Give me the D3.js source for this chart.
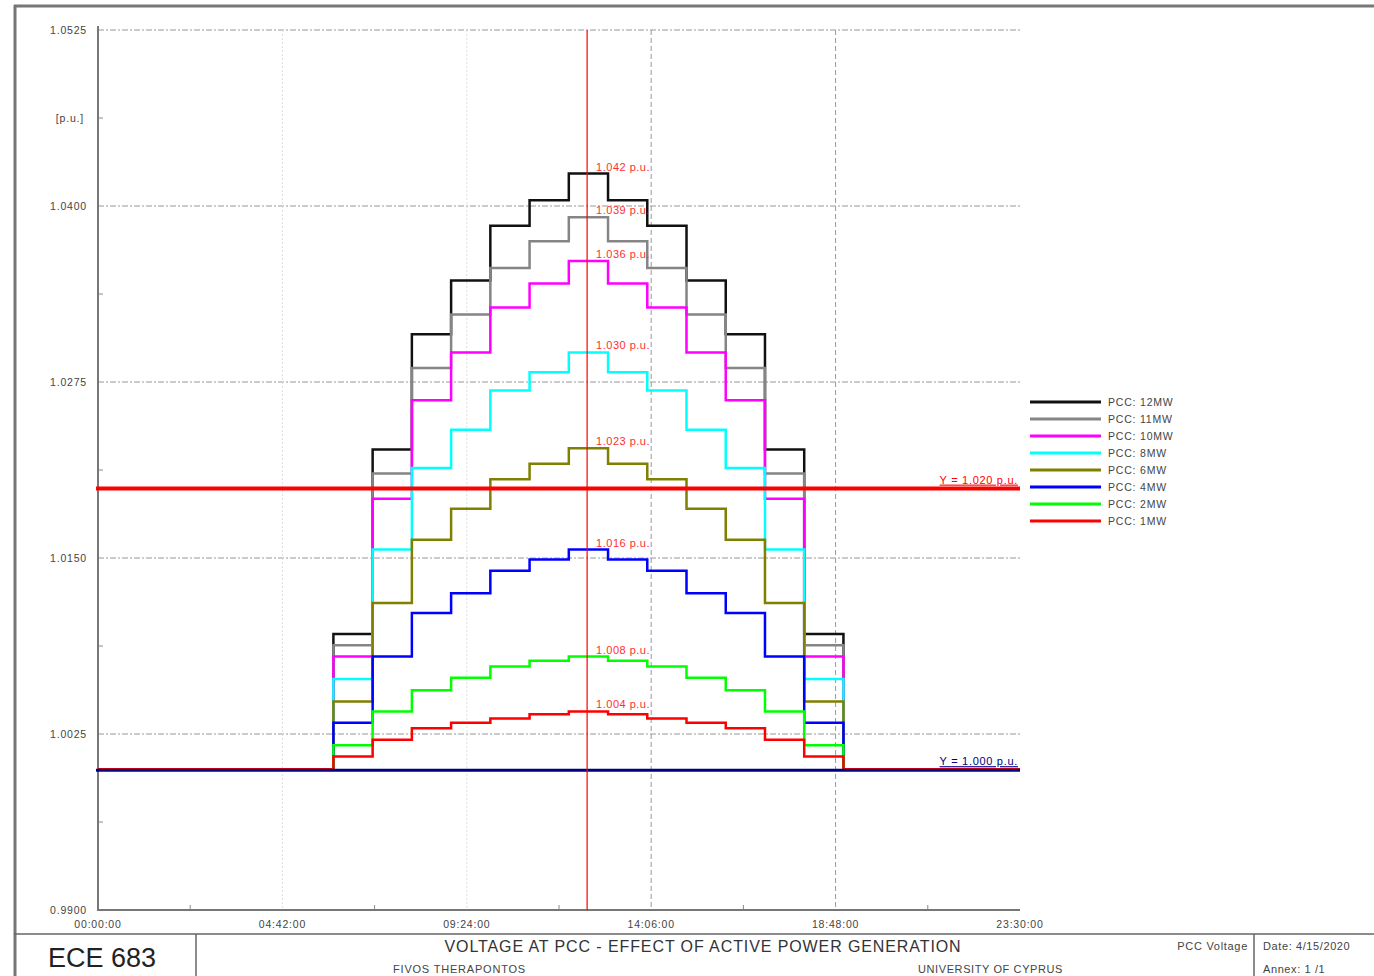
<!DOCTYPE html>
<html>
<head>
    <meta charset="utf-8">
    <script src="https://d3js.org/d3.v7.min.js"></script>
    <style>
        body { margin: 0; background: #fff; }
        svg text { font-family: "Liberation Sans", Arial, sans-serif; }
        .small { font-size: 10.5px; letter-spacing: 0.8px; fill: #444; }
    </style>
</head>
<body>
<script type="text/javascript">
    "use strict";
    // step times in hours (step-after), last point closes the day
    var stepHours = [0, 6, 7, 8, 9, 10, 11, 12, 13, 14, 15, 16, 17, 18, 19, 23.5];

    var pcc12 = [1.0, 1.0096, 1.0227, 1.0309, 1.0347, 1.0386, 1.0404, 1.0423, 1.0404, 1.0386, 1.0347, 1.0309, 1.0227, 1.0096, 1.0, 1.0];
    var pcc11 = [1.0, 1.0088, 1.0210, 1.0285, 1.0323, 1.0356, 1.0375, 1.0392, 1.0375, 1.0356, 1.0323, 1.0285, 1.0210, 1.0088, 1.0, 1.0];
    var pcc10 = [1.0, 1.0080, 1.0192, 1.0262, 1.0296, 1.0328, 1.0345, 1.0361, 1.0345, 1.0328, 1.0296, 1.0262, 1.0192, 1.0080, 1.0, 1.0];
    var pcc8  = [1.0, 1.0064, 1.0156, 1.0214, 1.0241, 1.0269, 1.0282, 1.0296, 1.0282, 1.0269, 1.0241, 1.0214, 1.0156, 1.0064, 1.0, 1.0];
    var pcc6  = [1.0, 1.0048, 1.0118, 1.0163, 1.0185, 1.0206, 1.0217, 1.0228, 1.0217, 1.0206, 1.0185, 1.0163, 1.0118, 1.0048, 1.0, 1.0];
    var pcc4  = [1.0, 1.0033, 1.0080, 1.0111, 1.0125, 1.0141, 1.0149, 1.0156, 1.0149, 1.0141, 1.0125, 1.0111, 1.0080, 1.0033, 1.0, 1.0];
    var pcc2  = [1.0, 1.0017, 1.0041, 1.0056, 1.0065, 1.0073, 1.0077, 1.0080, 1.0077, 1.0073, 1.0065, 1.0056, 1.0041, 1.0017, 1.0, 1.0];
    var pcc1  = [1.0, 1.0009, 1.0021, 1.0029, 1.0033, 1.0036, 1.0039, 1.0041, 1.0039, 1.0036, 1.0033, 1.0029, 1.0021, 1.0009, 1.0, 1.0];

    var seriesNames = ["PCC: 12MW", "PCC: 11MW", "PCC: 10MW", "PCC: 8MW", "PCC: 6MW", "PCC: 4MW", "PCC: 2MW", "PCC: 1MW"];
    var seriesValues = [pcc12, pcc11, pcc10, pcc8, pcc6, pcc4, pcc2, pcc1];
    var seriesColors = ["#111111", "#858585", "#ff00ff", "#00ffff", "#808000", "#0000ff", "#00ff00", "#ff0000"];
    var peakLabels = ["1.042 p.u.", "1.039 p.u.", "1.036 p.u.", "1.030 p.u.", "1.023 p.u.", "1.016 p.u.", "1.008 p.u.", "1.004 p.u."];

    var yTicks = [0.99, 1.0025, 1.015, 1.0275, 1.04, 1.0525];
    var yTickLabels = ["0.9900", "1.0025", "1.0150", "1.0275", "1.0400", "1.0525"];
    var xTickMinutes = [0, 282, 564, 846, 1128, 1410];
    var xTickLabels = ["00:00:00", "04:42:00", "09:24:00", "14:06:00", "18:48:00", "23:30:00"];
    var cursorMinute = 748;   // red vertical cursor
    var refLines = [{value: 1.020, label: "Y = 1.020 p.u.", color: "#ff0000", width: 4},
                    {value: 1.000, label: "Y = 1.000 p.u.", color: "#000080", width: 3}];

    var svg = d3.select("body").append("svg")
        .attr("width", 1374)
        .attr("height", 976);

    var x = d3.scaleLinear().domain([0, 1410]).range([98, 1020]);
    var y = d3.scaleLinear().domain([0.99, 1.0525]).range([910, 30]);

    // outer frame
    svg.append("line").attr("x1", 14).attr("x2", 1374).attr("y1", 6).attr("y2", 6)
        .style("stroke", "#777").style("stroke-width", 3);
    svg.append("line").attr("x1", 15).attr("x2", 15).attr("y1", 5).attr("y2", 976)
        .style("stroke", "#777").style("stroke-width", 3);

    // horizontal grid
    svg.selectAll(".hgrid").data(yTicks.slice(1)).enter().append("line")
        .attr("class", "hgrid")
        .attr("x1", 98).attr("x2", 1020)
        .attr("y1", function(d) { return y(d); })
        .attr("y2", function(d) { return y(d); })
        .style("stroke", "#999")
        .style("stroke-width", 1)
        .style("stroke-dasharray", "6,2,2,2");

    // vertical grid
    svg.selectAll(".vgrid").data(xTickMinutes.slice(1, 5)).enter().append("line")
        .attr("class", "vgrid")
        .attr("x1", function(d) { return x(d); })
        .attr("x2", function(d) { return x(d); })
        .attr("y1", 30).attr("y2", 910)
        .style("stroke", function(d, i) { return i < 2 ? "#ddd" : "#999"; })
        .style("stroke-width", 1)
        .style("stroke-dasharray", function(d, i) { return i < 2 ? "2,2" : "5,3"; });

    // axes
    svg.append("line").attr("x1", 98).attr("x2", 98).attr("y1", 26).attr("y2", 911)
        .style("stroke", "#777").style("stroke-width", 2);
    svg.append("line").attr("x1", 97).attr("x2", 1020).attr("y1", 910).attr("y2", 910)
        .style("stroke", "#777").style("stroke-width", 2);

    // minor ticks
    var yMinor = d3.range(5).map(function(i) { return (yTicks[i] + yTicks[i + 1]) / 2; });
    svg.selectAll(".ymin").data(yMinor).enter().append("line")
        .attr("x1", 99).attr("x2", 103)
        .attr("y1", function(d) { return y(d); })
        .attr("y2", function(d) { return y(d); })
        .style("stroke", "#888");
    var xMinor = d3.range(5).map(function(i) { return (xTickMinutes[i] + xTickMinutes[i + 1]) / 2; });
    svg.selectAll(".xmin").data(xMinor).enter().append("line")
        .attr("x1", function(d) { return x(d); })
        .attr("x2", function(d) { return x(d); })
        .attr("y1", 905).attr("y2", 909)
        .style("stroke", "#888");

    // tick labels
    svg.selectAll(".ylab").data(yTicks).enter().append("text")
        .attr("class", "small")
        .attr("x", 87)
        .attr("y", function(d) { return y(d) + 4; })
        .attr("text-anchor", "end")
        .text(function(d, i) { return yTickLabels[i]; });
    svg.append("text")
        .attr("class", "small")
        .attr("x", 84).attr("y", y(1.04625) + 4)
        .attr("text-anchor", "end")
        .text("[p.u.]");
    svg.selectAll(".xlab").data(xTickMinutes).enter().append("text")
        .attr("class", "small")
        .attr("x", function(d) { return x(d); })
        .attr("y", 928)
        .attr("text-anchor", "middle")
        .text(function(d, i) { return xTickLabels[i]; });

    // data lines (largest first, so the lower curves sit on top)
    var line = d3.line()
        .x(function(d, i) { return x(stepHours[i] * 60); })
        .y(function(d) { return y(d); })
        .curve(d3.curveStepAfter);

    seriesValues.forEach(function(vals, k) {
        svg.append("path")
            .datum(vals)
            .attr("d", line)
            .style("fill", "none")
            .style("stroke", seriesColors[k])
            .style("stroke-width", 2.5);
    });

    // reference lines
    refLines.forEach(function(r) {
        svg.append("line")
            .attr("x1", 96).attr("x2", 1020)
            .attr("y1", y(r.value) + 1).attr("y2", y(r.value) + 1)
            .style("stroke", r.color)
            .style("stroke-width", r.width);
        svg.append("text")
            .attr("x", 1018).attr("y", y(r.value) - 4)
            .attr("text-anchor", "end")
            .style("font-size", "11px")
            .style("letter-spacing", "0.7px")
            .style("fill", r.color)
            .style("text-decoration", "underline")
            .text(r.label);
    });

    // cursor
    svg.append("line")
        .attr("x1", x(cursorMinute)).attr("x2", x(cursorMinute))
        .attr("y1", 30).attr("y2", 910)
        .style("stroke", "#ff0000").style("stroke-width", 1.2);

    // peak labels
    svg.selectAll(".peak").data(seriesValues).enter().append("text")
        .attr("x", x(cursorMinute) + 9)
        .attr("y", function(d) { return y(d3.max(d)) - 3; })
        .style("font-size", "11px")
        .style("letter-spacing", "0.5px")
        .style("fill", "#ff3030")
        .text(function(d, i) { return peakLabels[i]; });

    // legend
    var legend = svg.selectAll(".leg").data(seriesNames).enter().append("g")
        .attr("transform", function(d, i) { return "translate(1030," + (402 + i * 17) + ")"; });
    legend.append("line")
        .attr("x1", 0).attr("x2", 71)
        .style("stroke", function(d, i) { return seriesColors[i]; })
        .style("stroke-width", 3);
    legend.append("text")
        .attr("class", "small")
        .attr("x", 78).attr("y", 4)
        .text(function(d) { return d; });

    // title block
    svg.append("line").attr("x1", 14).attr("x2", 1374).attr("y1", 934).attr("y2", 934)
        .style("stroke", "#666").style("stroke-width", 1.5);
    svg.append("line").attr("x1", 196).attr("x2", 196).attr("y1", 934).attr("y2", 976)
        .style("stroke", "#666").style("stroke-width", 1.5);
    svg.append("line").attr("x1", 1254).attr("x2", 1254).attr("y1", 934).attr("y2", 976)
        .style("stroke", "#666").style("stroke-width", 1.5);

    svg.append("text").attr("x", 48).attr("y", 967)
        .style("font-size", "27px").style("fill", "#222").text("ECE 683");
    svg.append("text").attr("x", 703).attr("y", 952).attr("text-anchor", "middle")
        .style("font-size", "16px").style("letter-spacing", "0.9px").style("fill", "#333")
        .text("VOLTAGE AT PCC - EFFECT OF ACTIVE POWER GENERATION");
    svg.append("text").attr("x", 393).attr("y", 973)
        .style("font-size", "11px").style("letter-spacing", "0.8px").style("fill", "#444")
        .text("FIVOS THERAPONTOS");
    svg.append("text").attr("x", 918).attr("y", 973)
        .style("font-size", "11px").style("letter-spacing", "0.6px").style("fill", "#444")
        .text("UNIVERSITY OF CYPRUS");
    svg.append("text").attr("x", 1248).attr("y", 950).attr("text-anchor", "end")
        .style("font-size", "11px").style("letter-spacing", "0.7px").style("fill", "#444")
        .text("PCC Voltage");
    svg.append("text").attr("x", 1263).attr("y", 950)
        .style("font-size", "11px").style("letter-spacing", "0.6px").style("fill", "#444")
        .text("Date: 4/15/2020");
    svg.append("text").attr("x", 1263).attr("y", 973)
        .style("font-size", "11px").style("letter-spacing", "0.6px").style("fill", "#444")
        .text("Annex: 1 /1");
</script>
</body>
</html>
